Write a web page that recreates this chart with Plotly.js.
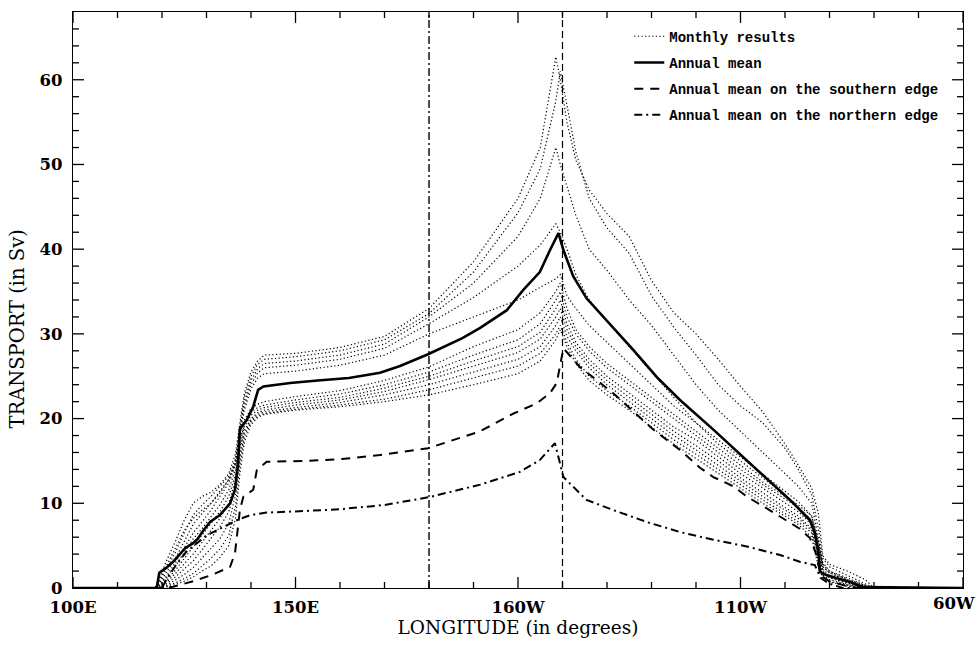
<!DOCTYPE html>
<html><head><meta charset="utf-8">
<script src="https://cdn.plot.ly/plotly-3.0.1.min.js"></script>
<style>html,body{margin:0;padding:0;background:#fff}#chart{width:977px;height:645px}</style>
</head><body><div id="chart"></div>
<script>
// Longitude (degrees east) shared by the 12 monthly curves
const MX = [100,118.5,119.5,121,123,125,127,129,131,133,135,136.5,137.5,138.5,140,141.5,143,150,160,170,180,190,200,205,208.5,209.5,211,213,216,220,225,230,235,240,245,250,255,260,263,266,267.5,268.5,270,274,278,280,300];
const M1  = [0, 0,1.2,3.2,5.5,8,10,10.8,11.3,12.2,13.5,15.8,19.5,23,25.5,26.8,27.5, 27.7,28.4,29.7,33.0,38.5,46,52, 62.7,60, 55,50.5,47,44.2,41.5,36.3,32.5,30,27,23.8,20.8,17,14.5,11.8,8.8,3.8,2.8,2,1,0,0];
const M2  = [0, 0,0.8,2.2,4.2,6.5,8.6,9.8,10.8,12,13.2,15.2,19,22.5,25,26.4,27.0, 27.3,28.0,29.3,32.4,37.3,44.3,49.5, 57.5,61, 57,51.5,46,42.5,39.5,34.5,30.8,27.5,24,21.5,19.5,16.5,14,11,7,3.5,2.5,1.5,0.5,0,0];
const M3  = [0, 0,0.6,1.8,3.5,5.5,7.5,8.8,10,11.4,12.8,14.8,18.8,22,24.5,25.9,26.5, 26.8,27.5,28.8,32.0,36,41.5,46, 52,50, 47.5,44,40,37.5,34,31,27.5,24,21,18.5,16,13.5,12,10,6,3,2,1.2,0.3,0,0];
const M4  = [0, 0,0.4,1.4,3,4.8,6.5,7.8,9.2,10.8,12.4,14.5,18.5,21.5,24,25.4,26.0, 26.3,27.0,28.3,31.2,34.3,38,40.5, 43,42, 40,37,34,31.5,28.5,25.5,22.5,19.5,17,15,13,11,9.5,8,5,2.5,1.8,1,0.2,0,0];
const M5  = [0, 0,1.0,2.6,4.6,6.8,8.2,9.2,10,11.2,12.8,14.8,18,21,23.5,24.8,25.3, 25.6,26.3,27.5,30.0,32,34,35.5, 36.5,37, 34.5,33,31,29,26.5,24,21.5,19.5,17.5,15.5,13.5,11.5,10.2,8.5,5.5,2.8,2,1,0.3,0,0];
const M6  = [0, 0,0.3,1.2,2.6,4.2,5.8,7,8.4,9.8,11.6,14,17.5,19.8,21.2,21.7,22.0, 22.6,23.3,24.5,26.1,28.5,30.5,32.5, 35,36, 33,30.5,28.5,26.5,24.5,22.5,20.5,18.5,16.5,14.5,12.5,10.8,9.8,8.5,5.5,2.5,1.8,0.8,0.2,0,0];
const M7  = [0, 0,0.2,0.9,2.1,3.5,4.8,6.2,7.6,9,10.8,13.4,17,19.4,20.8,21.3,21.6, 22.2,22.9,24.0,25.5,27.5,29.3,31.2, 34,35, 32,30,28,26,24,22,20,18,16,14,12.2,10.5,9.5,8,5,2.2,1.5,0.7,0.1,0,0];
const M8  = [0, 0,0.1,0.7,1.7,2.8,4,5.4,6.8,8.2,10,12.8,16.6,19,20.4,21,21.3, 21.9,22.5,23.6,25.0,26.8,28.5,30.2, 33,34, 31.2,29,27,25,23,21,19,17.5,15.5,13.5,11.8,10,9,7.5,4.5,2,1.3,0.6,0,0,0];
const M9  = [0, 0,0.1,0.5,1.3,2.2,3.2,4.5,5.8,7.2,9,12,16,18.6,20,20.7,21.0, 21.6,22.2,23.2,24.6,26.2,27.8,29.4, 32,33, 30.5,28.5,26.5,24.5,22.5,20.5,18.5,16.8,15,13,11.2,9.5,8.5,7,4,1.8,1.2,0.5,0,0,0];
const M10 = [0, 0,0,0.3,0.9,1.6,2.4,3.5,4.6,5.8,7.6,11,15.2,18.2,19.8,20.5,20.8, 21.3,21.9,22.8,24.0,25.5,27.0,28.5, 31,32, 29.7,28,26,24,22,20,18,16.3,14.5,12.6,10.8,9.2,8.2,6.8,3.5,1.5,1,0.4,0,0,0];
const M11 = [0, 0,0,0.2,0.6,1.1,1.7,2.6,3.5,4.6,6.2,9.6,14.5,17.8,19.6,20.3,20.6, 21.1,21.6,22.3,23.4,24.8,26.2,27.7, 30,31, 29,27,25,23.3,21.5,19.5,17.5,15.8,14,12.2,10.4,8.8,7.8,6.5,3,1.3,0.8,0.3,0,0,0];
const M12 = [0, 0,0,0.1,0.4,0.8,1.3,2,2.6,3.6,5,8.2,13.5,17.2,19.3,20.1,20.5, 21.0,21.4,22.0,22.8,24.0,25.3,26.8, 29.3,30.5, 28.5,26.5,24.5,22.8,21,19,17,15.3,13.5,11.8,10,8.5,7.5,6,2.5,1.2,0.7,0.2,0,0,0];
const MONTHLY = [M1,M2,M3,M4,M5,M6,M7,M8,M9,M10,M11,M12];

// Annual mean
const AX = [100,118.8,119.4,121,122.5,124,125.2,127,128,129.3,130.8,133,135.3,136.4,137.1,137.5,139,140.5,141.6,142.8,148.8,155,162,169,173.5,179.8,187.5,191.5,194,197.5,201.2,204.9,207.2,209.1,210.2,212.4,215.4,219.9,225.9,231.2,236.4,243.9,251.4,258.9,261.9,265.6,266.7,267.5,267.9,269.4,274.6,277.6,300];
const AY = [0,0,1.8,2.4,3.1,4.0,4.7,5.3,5.8,6.8,7.8,8.6,10,11.6,14.7,18.8,19.8,21.4,23.4,23.8,24.2,24.5,24.8,25.4,26.2,27.6,29.5,30.7,31.6,32.8,35.2,37.3,39.9,41.9,39.9,36.8,34.2,31.6,28.1,24.9,22.2,18.7,15.1,11.4,10,8,6.5,4.1,1.9,1.5,0.7,0.1,0];

// Annual mean on the southern edge
const SX = [100,121,122.5,127,131.5,135.3,136.4,137.1,137.5,138.3,139.4,140.5,141.3,143.5,152.5,160,169,179.8,191.5,199,204.2,207.2,208.7,210.2,213.9,221.4,230.4,236.4,240.9,243.9,248.4,251.4,255.9,258.9,263.3,265.6,267,268,270,274,276,300];
const SY = [0,0,0.15,0.8,1.6,2.5,4.1,7.5,9.2,10.8,11.2,11.6,13.9,14.9,15.0,15.2,15.7,16.5,18.5,20.6,21.8,23,24.2,28.3,26.1,23.0,18.7,16.3,14.2,13.1,12.0,10.8,9.4,8.4,7.0,5.9,4,1.5,0.8,0.2,0,0];

// Annual mean on the northern edge
const NX = [100,120,121,123,125.5,130,133.8,136.8,139.8,143.5,152.5,160,170,179.8,191.5,200.4,204.9,208.3,210.2,215.4,221.4,228.9,236.4,243.9,251.4,258.9,263.3,266.7,268,270,273,300];
const NY = [0,0,1,2.6,4.3,6.2,7.2,8.0,8.6,8.9,9.1,9.3,9.8,10.7,12.2,13.7,15.1,17.1,13.1,10.4,9.2,7.8,6.6,5.7,4.9,3.9,3.1,2.7,1.2,0.5,0,0];

// Reference meridians (dateline and 150W)
const DATELINE = 180;
const MERID150W = 210;

// Axis ticks
const XRANGE = [100, 300];
const YRANGE = [0, 68];
const XTICKVALS = [100,150,200,250,300];
const XTICKTEXT = ['100E','150E','160W','110W','60W'];
const XMINOR = [110,120,130,140,160,170,180,190,210,220,230,240,260,270,280,290];
const YTICKVALS = [0,10,20,30,40,50,60];
const YMINOR = [2,4,6,8,12,14,16,18,22,24,26,28,32,34,36,38,42,44,46,48,52,54,56,58,62,64,66];

const LABELS = ['Monthly results','Annual mean','Annual mean on the southern edge','Annual mean on the northern edge'];
const XTITLE = 'LONGITUDE (in degrees)';
const YTITLE = 'TRANSPORT (in Sv)';

// Figure geometry (px)
const W = 977, H = 645, ML = 73, MR = 14, MT = 12, MB = 57;
const PW = W - ML - MR, PH = H - MT - MB;
const MAJ = 11, MIN = 6;  // tick lengths in px

const traces = [];
MONTHLY.forEach((m, i) => traces.push({
  type:'scatter', mode:'lines', x:MX, y:m, name:LABELS[0], legendgroup:'g0',
  showlegend: i === 0, line:{color:'#000', width:1.2, dash:'1.2px,2.4px'}, hoverinfo:'skip'
}));
traces.push({type:'scatter', mode:'lines', x:[DATELINE,DATELINE], y:YRANGE, showlegend:false,
  line:{color:'#000', width:1.4, dash:'8px,3px,2px,3px'}, hoverinfo:'skip'});
traces.push({type:'scatter', mode:'lines', x:[MERID150W,MERID150W], y:YRANGE, showlegend:false,
  line:{color:'#000', width:1.2, dash:'7px,4px'}, hoverinfo:'skip'});
traces.push({type:'scatter', mode:'lines', x:AX, y:AY, name:LABELS[1], legendgroup:'g1',
  line:{color:'#000', width:2.6}, hoverinfo:'skip'});
traces.push({type:'scatter', mode:'lines', x:SX, y:SY, name:LABELS[2], legendgroup:'g2',
  line:{color:'#000', width:2, dash:'9px,7px'}, hoverinfo:'skip'});
traces.push({type:'scatter', mode:'lines', x:NX, y:NY, name:LABELS[3], legendgroup:'g3',
  line:{color:'#000', width:2, dash:'8px,4px,2px,4px'}, hoverinfo:'skip'});

// Inside tick marks on all four sides of the box (IDL style), drawn as line segments
const xu = (XRANGE[1] - XRANGE[0]) / PW;   // data units per px horizontally
const yu = (YRANGE[1] - YRANGE[0]) / PH;   // data units per px vertically
const tx = [], ty = [];
function xTick(v, len) {
  tx.push(v, v, null, v, v, null);
  ty.push(YRANGE[0], YRANGE[0] + len * yu, null, YRANGE[1], YRANGE[1] - len * yu, null);
}
function yTick(v, len) {
  tx.push(XRANGE[0], XRANGE[0] + len * xu, null, XRANGE[1], XRANGE[1] - len * xu, null);
  ty.push(v, v, null, v, v, null);
}
XTICKVALS.forEach(v => xTick(v, MAJ));
XMINOR.forEach(v => xTick(v, MIN));
YTICKVALS.forEach(v => yTick(v, MAJ));
YMINOR.forEach(v => yTick(v, MIN));
traces.push({type:'scatter', mode:'lines', x:tx, y:ty, showlegend:false, connectgaps:false,
  line:{color:'#000', width:1.3}, hoverinfo:'skip', cliponaxis:false});

const tickFont = {family:'DejaVu Serif', size:16.5, color:'#000', weight:'bold'};

const layout = {
  width:W, height:H,
  margin:{l:ML, r:MR, t:MT, b:MB, pad:0},
  paper_bgcolor:'#fff', plot_bgcolor:'#fff',
  showlegend:true,
  legend:{x:0.625, y:0.985, xanchor:'left', yanchor:'top', bgcolor:'rgba(0,0,0,0)',
    font:{family:'Liberation Mono', size:14, color:'#000', weight:'bold'},
    tracegroupgap:5, traceorder:'grouped'},
  xaxis:{range:XRANGE, tickmode:'array', tickvals:XTICKVALS,
    ticktext:XTICKTEXT.slice(0, XTICKTEXT.length - 1).concat(['']),
    ticks:'', showline:true, linecolor:'#000', linewidth:1.2, mirror:true,
    showgrid:false, zeroline:false, tickfont:tickFont, ticklabelstandoff:4,
    title:{text:XTITLE, font:{family:'DejaVu Serif', size:18.5, color:'#000'}, standoff:4}},
  yaxis:{range:YRANGE, tickmode:'array', tickvals:YTICKVALS,
    ticks:'', showline:true, linecolor:'#000', linewidth:1.2, mirror:true,
    showgrid:false, zeroline:false, tickfont:tickFont, ticklabelstandoff:6},
  annotations:[
    {text:YTITLE, xref:'paper', yref:'paper', x:-0.062, y:0.45, xanchor:'center', yanchor:'middle',
     textangle:-90, showarrow:false, font:{family:'DejaVu Serif', size:19.5, color:'#000'}},
    {text:XTICKTEXT[XTICKTEXT.length - 1], xref:'x', yref:'paper', x:XTICKVALS[XTICKVALS.length - 1], y:-0.007,
     xanchor:'right', yanchor:'top', xshift:14, showarrow:false, font:tickFont}
  ]
};

Plotly.newPlot('chart', traces, layout, {staticPlot:true, displayModeBar:false});
</script>
</body></html>
